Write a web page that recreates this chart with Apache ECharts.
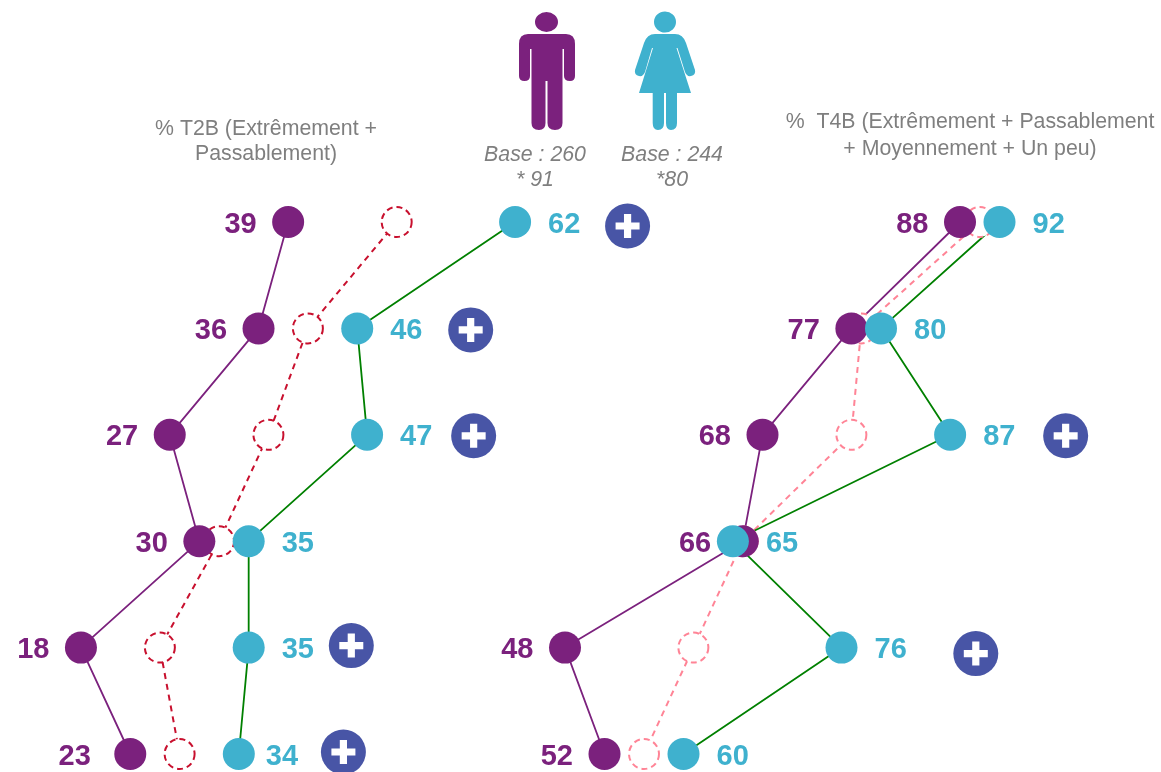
<!DOCTYPE html>
<html>
<head>
<meta charset="utf-8">
<style>
html, body { margin: 0; padding: 0; background: #fff; }
#chart { width: 1161px; height: 772px; }
</style>
<script src="https://cdn.jsdelivr.net/npm/echarts@6/dist/echarts.min.js"></script>
</head>
<body>
<div id="chart"></div>
<script>
const rows = ['1', '2', '3', '4', '5', '6']

// left panel, % T2B
const t2bMen = [39, 36, 27, 30, 18, 23]
const t2bWomen = [62, 46, 47, 35, 35, 34]
const t2bRef = [50, 41, 37, 32, 26, 28]
const t2bPlus = [73.4, 57.5, 57.8, null, 45.4, 44.6]

// right panel, % T4B
const t4bMen = [88, 77, 68, 66, 48, 52]
const t4bWomen = [92, 80, 87, 65, 76, 60]
const t4bRef = [90, 78, 77, 66, 61, 56]
const t4bPlus = [null, null, 98.7, null, 89.6, null]

const PURPLE = '#7b217d'
const TEAL = '#3fb1ce'
const GREEN = '#008000'
const GREY = '#7f7f7f'
const BADGE = '#4855a6'

const manPath = 'M535,22a11.5,10 0 1,0 23,0a11.5,10 0 1,0 -23,0Z' +
  'M528,34H566Q575,34 575,44V76Q575,81 570,81Q564,81 564,76V49H562.5V123Q562.5,130 555,130Q547.5,130 547.5,123V81H545.5V123Q545.5,130 539,130Q531.5,130 531.5,123V49H530V76Q530,81 524.5,81Q519,81 519,76V44Q519,34 528,34Z'
const womanPath = 'M654,22a11,10.5 0 1,0 22,0a11,10.5 0 1,0 -22,0Z' +
  'M655,34H675Q683,34 686,43L695,70Q696,75 691,76Q687,77 685,72L677.5,48H676.5L691,93H677V123Q677,130 671,130Q666,130 666,123V93H664V123Q664,130 658,130Q652.7,130 652.7,123V93H639L653,48H652L645,72Q643,77 639,76Q634,75 635,70L644,43Q647,34 655,34Z'
const plusPath = 'path://M3.5,0h3v3.5h3.5v3h-3.5v3.5h-3v-3.5h-3.5v-3h3.5z'

echarts.graphic.registerShape('manIcon', echarts.graphic.extendPath(manPath))
echarts.graphic.registerShape('womanIcon', echarts.graphic.extendPath(womanPath))

// badges do not sit exactly on their row in the original
const t2bPlusNudge = [4, 1.5, 1, 0, -2, -2]
const t4bPlusNudge = [0, 0, 1, 0, 6, 0]

function lineSeries(values, color, axis, side, labelShift) {
  return {
    type: 'line',
    xAxisIndex: axis,
    yAxisIndex: axis,
    data: values.map((v, i) => {
      const shift = labelShift && labelShift[i]
      return shift ? { value: v, label: { offset: [shift, 2.5] } } : v
    }),
    symbol: 'circle',
    symbolSize: 32,
    lineStyle: { color: color === PURPLE ? PURPLE : GREEN, width: 1.8 },
    itemStyle: { color: color },
    label: {
      show: true,
      position: side,
      distance: side === 'left' ? 15.5 : 17,
      offset: [0, 2.5],
      color: color,
      fontSize: 29,
      fontWeight: 'bold',
      fontFamily: 'Liberation Sans',
    },
    emphasis: { disabled: true },
    silent: true,
    animation: false,
  }
}

function refSeries(values, color, axis) {
  return {
    type: 'line',
    xAxisIndex: axis,
    yAxisIndex: axis,
    data: values,
    symbol: 'circle',
    symbolSize: 30,
    lineStyle: { color: color, width: 2, type: [6, 5] },
    itemStyle: { color: '#fff', borderColor: color, borderWidth: 2, borderType: [6, 4] },
    emphasis: { disabled: true },
    silent: true,
    animation: false,
  }
}

function plusSeries(values, nudge, axis) {
  const points = values.map((v, i) => ({ value: [v, i], symbolOffset: [0, nudge[i]] })).filter(p => p.value[0] !== null)
  return [
    { symbol: 'circle', symbolSize: 45, itemStyle: { color: BADGE, opacity: 1 } },
    { symbol: plusPath, symbolSize: 24, itemStyle: { color: '#fff', opacity: 1 } },
  ].map(s => Object.assign({
    type: 'scatter',
    xAxisIndex: axis,
    yAxisIndex: axis,
    data: points,
    silent: true,
    animation: false,
  }, s))
}

const textStyle = { fill: GREY, fontFamily: 'Liberation Sans', fontSize: 21.3, textAlign: 'center', lineHeight: 26 }

const chart = echarts.init(document.getElementById('chart'))
chart.setOption({
  animation: false,
  grid: [
    { left: 2, top: 222, width: 690.7, height: 532 },
    { left: 486, top: 222, width: 592.5, height: 532 },
  ],
  xAxis: [
    { type: 'value', min: 10, max: 80, show: false },
    { type: 'value', min: 40, max: 100, show: false, gridIndex: 1 },
  ],
  yAxis: [
    { type: 'category', data: rows, inverse: true, boundaryGap: false, show: false, gridIndex: 0 },
    { type: 'category', data: rows, inverse: true, boundaryGap: false, show: false, gridIndex: 1 },
  ],
  series: [
    refSeries(t2bRef, '#c8102e', 0),
    lineSeries(t2bMen, PURPLE, 0, 'left', [0, 0, 0, 0, 0, -8]),
    lineSeries(t2bWomen, TEAL, 0, 'right', [0, 0, 0, 0, 0, -6]),
    ...plusSeries(t2bPlus, t2bPlusNudge, 0),
    refSeries(t4bRef, '#ff8496', 1),
    lineSeries(t4bMen, PURPLE, 1, 'left'),
    lineSeries(t4bWomen, TEAL, 1, 'right'),
    ...plusSeries(t4bPlus, t4bPlusNudge, 1),
  ],
  graphic: [
    { type: 'manIcon', style: { fill: PURPLE } },
    { type: 'womanIcon', style: { fill: TEAL } },
    { type: 'text', x: 266, y: 117, style: Object.assign({}, textStyle, { lineHeight: 25, text: '% T2B (Extrêmement +\nPassablement)' }) },
    { type: 'text', x: 970, y: 109, style: Object.assign({}, textStyle, { lineHeight: 27, text: '%  T4B (Extrêmement + Passablement\n+ Moyennement + Un peu)' }) },
    { type: 'text', x: 535, y: 143, style: Object.assign({}, textStyle, { fontStyle: 'italic', lineHeight: 25, text: 'Base : 260\n* 91' }) },
    { type: 'text', x: 672, y: 143, style: Object.assign({}, textStyle, { fontStyle: 'italic', lineHeight: 25, text: 'Base : 244\n*80' }) },
  ],
})
</script>
</body>
</html>
